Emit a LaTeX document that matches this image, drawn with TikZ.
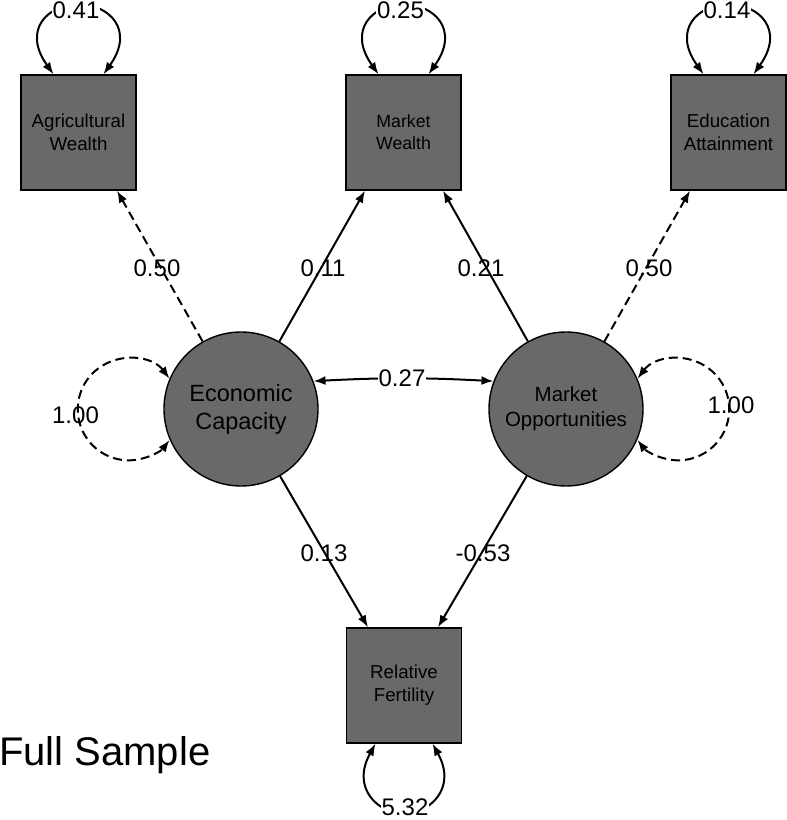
\documentclass[tikz,border=0pt]{standalone}
\usepackage{fontspec}
\setmainfont{Liberation Sans}
\usetikzlibrary{arrows.meta}
\definecolor{nodegray}{RGB}{105,105,105}
\begin{document}
\begin{tikzpicture}[x=1pt,y=1pt,
  boxnode/.style={draw=black,line width=1.4pt,fill=nodegray,minimum width=115pt,minimum height=115pt,inner sep=0pt,align=center,font=\fontsize{18.7}{23}\selectfont},
  latent/.style={circle,draw=black,line width=1.4pt,fill=nodegray,minimum size=154pt,inner sep=0pt,align=center},
  conn/.style={line width=2pt,-{Latex[length=12pt,width=9pt]}},
  dconn/.style={conn,dash pattern=on 9pt off 5pt},
  both/.style={line width=2pt,{Latex[length=12pt,width=9pt]}-{Latex[length=12pt,width=9pt]}},
  dboth/.style={both,dash pattern=on 9pt off 5pt},
  lab/.style={inner sep=0pt,font=\fontsize{24}{28}\selectfont},
  wlab/.style={lab,fill=white,inner sep=1pt},
]
\useasboundingbox (0,0) rectangle (787,820);

% observed and latent variables
\node[boxnode] (AW) at (78.5,687.5) {Agricultural\\Wealth};
\node[boxnode,font=\fontsize{17.7}{22}\selectfont] (MW) at (403.5,687.5) {Market\\Wealth};
\node[boxnode] (EA) at (728.5,687.5) {Education\\Attainment};
\node[boxnode] (RF) at (404,134.5) {Relative\\Fertility};
\node[latent,font=\fontsize{23.5}{28}\selectfont] (EC) at (241,411) {Economic\\Capacity};
\node[latent,font=\fontsize{20.5}{25}\selectfont] (MO) at (566,411) {Market\\Opportunities};

% paths
\draw[dconn] (EC) -- ([xshift=38.5]AW.south);
\draw[conn] (EC) -- ([xshift=-38.5]MW.south);
\draw[conn] (MO) -- ([xshift=39.5]MW.south);
\draw[dconn] (MO) -- ([xshift=-38.5]EA.south);
\draw[conn] (EC) -- ([xshift=-36]RF.north);
\draw[conn] (MO) -- ([xshift=34]RF.north);
\draw[both] (EC.21) to[bend left=3] (MO.159);

% path labels
\node[lab] (p1) at (157,552) {0.50};
\node[lab] (p2) at (323,552) {0.11};
\node[lab] (p3) at (481,552) {0.21};
\node[lab] (p4) at (649,552) {0.50};
\node[lab] (p5) at (324,267) {0.13};
\node[lab] (p6) at (483,267) {-0.53};
\node[wlab] (p7) at (402,442) {0.27};

% variances of latent variables
\draw[dboth] (EC.157) arc[start angle=37,end angle=323,radius=51];
\draw[dboth] (MO.23) arc[start angle=143,end angle=-143,radius=51];
\node[lab] (v1) at (75.5,405) {1.00};
\node[lab] (v2) at (731,415) {1.00};

% residual variances
\foreach \n in {AW,MW,EA}{
  \draw[both] ([xshift=-25]\n.north) .. controls +(-32,45) and +(-30,0) .. ([yshift=70]\n.north)
     .. controls +(30,0) and +(32,45) .. ([xshift=25]\n.north);
}
\draw[both] ([xshift=-28.5]RF.south) .. controls +(-25,-45) and +(-25,0) .. ([yshift=-70]RF.south)
   .. controls +(25,0) and +(25,-45) .. ([xshift=28.5]RF.south);
\node[wlab] (r1) at (76,810) {0.41};
\node[wlab] (r2) at (400.5,810) {0.25};
\node[wlab] (r3) at (727,810) {0.14};
\node[wlab,inner sep=0.5pt] (r4) at (405,12.5) {5.32};

\node[anchor=base west,inner sep=0pt,font=\fontsize{40}{48}\selectfont] (title) at (-1,54) {Full Sample};
\end{tikzpicture}
\end{document}
